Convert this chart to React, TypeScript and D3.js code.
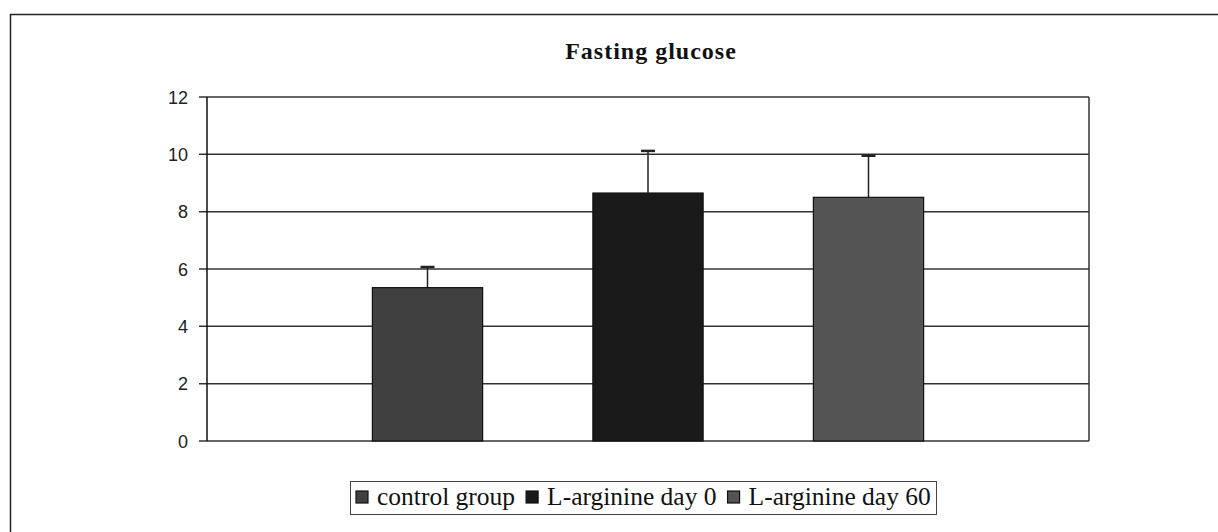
import React from "react";
import * as d3 from "d3";

const categories = ["control group", "L-arginine day 0", "L-arginine day 60"];
const means = [5.35, 8.65, 8.5];
const errors = [0.72, 1.47, 1.45];
const yTicks = [0, 2, 4, 6, 8, 10, 12];
const colors = ["#404040", "#1a1a1a", "#545454"];

function measure(text: string, font: string): number {
  if (typeof document === "undefined") return text.length * 10;
  const c = document.createElement("canvas");
  const ctx = c.getContext("2d")!;
  ctx.font = font;
  return ctx.measureText(text).width;
}

export default function App() {
  const W = 1218, H = 532;
  const left = 207, right = 1089, top = 97, bottom = 441;
  const y = d3.scaleLinear().domain([0, 12]).range([bottom, top]);
  const x = d3.scalePoint<string>().domain(categories).range([left, right]).padding(1);
  const bw = x.step() / 2;

  const legendFont = 25.5;
  const fontStr = `${legendFont}px "Liberation Serif", "Times New Roman", serif`;
  const marker = 12, gapIn = 9, gapOut = 11;
  let cur = 356;
  const legendPos = categories.map(c => {
    const mx = cur;
    const tx = mx + marker + gapIn;
    const w = measure(c, fontStr);
    cur = tx + w + gapOut;
    return { c, mx, tx };
  });

  return (
    <svg width={W} height={H} style={{ position: "absolute", left: 0, top: 0, background: "#fff" }}>
      <rect x={0} y={0} width={W} height={H} fill="#fff" />
      <path d={`M10.5,${H} V14.5 H${W}`} fill="none" stroke="#222" strokeWidth={1.5} />
      <text x={651} y={59} textAnchor="middle" fontFamily="Liberation Serif, Times New Roman, serif" fontWeight="bold" fontSize={24} letterSpacing={1} fill="#111">Fasting glucose</text>
      {yTicks.map(t => (
        <g key={t}>
          <line x1={199} x2={right} y1={y(t)} y2={y(t)} stroke="#333" strokeWidth={1.5} />
          <text x={188} y={y(t) + 6.5} textAnchor="end" fontFamily="Liberation Sans, Arial, sans-serif" fontSize={18} fill="#222">{t}</text>
        </g>
      ))}
      <line x1={left} x2={left} y1={top} y2={bottom} stroke="#111" strokeWidth={1.5} />
      <line x1={right} x2={right} y1={top} y2={bottom} stroke="#333" strokeWidth={1.5} />
      {categories.map((c, i) => {
        const cx = x(c)!;
        const bx = cx - bw / 2;
        return (
          <g key={c}>
            <line x1={cx} x2={cx} y1={y(means[i])} y2={y(means[i] + errors[i])} stroke="#222" strokeWidth={1.5} />
            <line x1={cx - 7} x2={cx + 7} y1={y(means[i] + errors[i])} y2={y(means[i] + errors[i])} stroke="#222" strokeWidth={2.5} />
            <rect x={bx} y={y(means[i])} width={bw} height={bottom - y(means[i])} fill={colors[i]} stroke="#111" strokeWidth={1.2} />
          </g>
        );
      })}
      <rect x={350.5} y={481.5} width={586} height={33} fill="#fff" stroke="#444" strokeWidth={1} />
      {legendPos.map(({ c, mx, tx }, i) => (
        <g key={c}>
          <rect x={mx} y={491} width={marker} height={marker} fill={colors[i]} stroke="#111" strokeWidth={1.2} />
          <text x={tx} y={505} fontFamily="Liberation Serif, Times New Roman, serif" fontSize={legendFont} fill="#111">{c}</text>
        </g>
      ))}
    </svg>
  );
}
